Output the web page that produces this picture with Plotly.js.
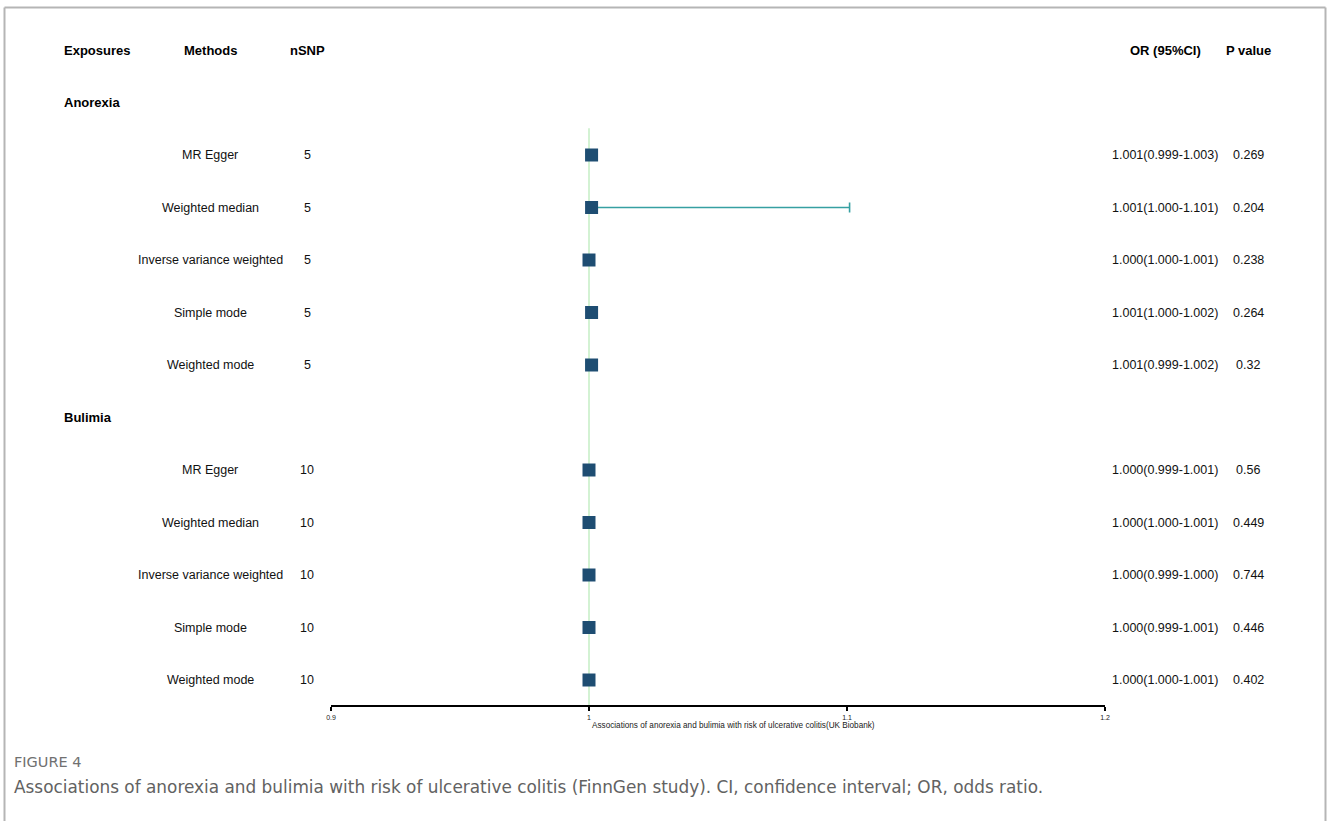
<!DOCTYPE html>
<html>
<head>
<meta charset="utf-8">
<script src="https://cdn.plot.ly/plotly-3.0.1.min.js"></script>
<style>
  html, body { margin: 0; padding: 0; background: #ffffff; }
  #chart { width: 1328px; height: 821px; }
</style>
</head>
<body>
<div id="chart"></div>
<script>
// ---- Data ----
const exposures = ["Anorexia", "Bulimia"];
const methods = ["MR Egger", "Weighted median", "Inverse variance weighted", "Simple mode", "Weighted mode"];
const nsnp = [[5, 5, 5, 5, 5], [10, 10, 10, 10, 10]];
const orVals = [[1.001, 1.001, 1.000, 1.001, 1.001], [1.000, 1.000, 1.000, 1.000, 1.000]];
const lowVals = [[0.999, 1.000, 1.000, 1.000, 0.999], [0.999, 1.000, 0.999, 0.999, 1.000]];
const highVals = [[1.003, 1.101, 1.001, 1.002, 1.002], [1.001, 1.001, 1.000, 1.001, 1.001]];
const pVals = [["0.269", "0.204", "0.238", "0.264", "0.32"], ["0.56", "0.449", "0.744", "0.446", "0.402"]];
const headers = ["Exposures", "Methods", "nSNP", "OR (95%CI)", "P value"];
const tickVals = [0.9, 1, 1.1, 1.2];
const tickText = ["0.9", "1", "1.1", "1.2"];
const refValue = 1;
const axisTitle = "Associations of anorexia and bulimia with risk of ulcerative colitis(UK Biobank)";
const figLabel = "FIGURE 4";
const caption = "Associations of anorexia and bulimia with risk of ulcerative colitis (FinnGen study). CI, confidence interval; OR, odds ratio.";

// ---- Build rows ----
const W = 1328, H = 821;
const px = v => v / W;            // horizontal pixel -> paper fraction
const py = v => 1 - v / H;        // vertical pixel -> paper fraction
const FONT = "Liberation Sans, Arial, sans-serif";
const CAPFONT = "DejaVu Sans, Open Sans, sans-serif";

const xs = [], ys = [], errPlus = [], errMinus = [];
const annotations = [];
let row = 1;
const groupRows = [];

function fmt(v) { return v.toFixed(3); }

exposures.forEach((exp, g) => {
  groupRows.push(row);
  annotations.push({ x: px(62), xref: "paper", y: row, yref: "y", text: "<b>" + exp + "</b>",
    showarrow: false, xanchor: "left", yanchor: "middle", font: { family: FONT, size: 13, color: "#000" } });
  row++;
  methods.forEach((m, i) => {
    const o = orVals[g][i], lo = lowVals[g][i], hi = highVals[g][i];
    xs.push(o); ys.push(row);
    errPlus.push(hi - o); errMinus.push(o - lo);
    annotations.push({ x: px(210), xref: "paper", y: row, yref: "y", text: m, showarrow: false,
      xanchor: "center", yanchor: "middle", font: { family: FONT, size: 12.5, color: "#111" } });
    annotations.push({ x: px(307), xref: "paper", y: row, yref: "y", text: String(nsnp[g][i]), showarrow: false,
      xanchor: "center", yanchor: "middle", font: { family: FONT, size: 12.5, color: "#111" } });
    annotations.push({ x: px(1165), xref: "paper", y: row, yref: "y", text: fmt(o) + "(" + fmt(lo) + "-" + fmt(hi) + ")",
      showarrow: false, xanchor: "center", yanchor: "middle", font: { family: FONT, size: 12.5, color: "#111" } });
    annotations.push({ x: px(1248), xref: "paper", y: row, yref: "y", text: pVals[g][i], showarrow: false,
      xanchor: "center", yanchor: "middle", font: { family: FONT, size: 12.5, color: "#111" } });
    row++;
  });
});
const lastRow = row - 1;

// headers
const headerX = [px(62), px(210), px(307), px(1165), px(1248)];
const headerAnchor = ["left", "center", "center", "center", "center"];
headers.forEach((h, i) => {
  annotations.push({ x: headerX[i], xref: "paper", y: 0, yref: "y", text: "<b>" + h + "</b>", showarrow: false,
    xanchor: headerAnchor[i], yanchor: "middle", font: { family: FONT, size: 13, color: "#000" } });
});

// axis title + caption
annotations.push({ x: px(733), xref: "paper", y: py(725), yref: "paper", text: axisTitle, showarrow: false,
  xanchor: "center", yanchor: "middle", font: { family: FONT, size: 8.2, color: "#222" } });
annotations.push({ x: px(12), xref: "paper", y: py(762), yref: "paper", text: figLabel, showarrow: false,
  xanchor: "left", yanchor: "middle", font: { family: CAPFONT, size: 14.5, color: "#707070" } });
annotations.push({ x: px(12), xref: "paper", y: py(787), yref: "paper", text: caption, showarrow: false,
  xanchor: "left", yanchor: "middle", font: { family: CAPFONT, size: 16.9, color: "#626262" } });

// y mapping: row index -> pixel = 50 + 52.5*index
const rowTop = 50, rowStep = 52.5;
const yRange = [(H - rowTop) / rowStep, (0 - rowTop) / rowStep];
const axisRow = lastRow + 0.5;

const trace = {
  type: "scatter", mode: "markers", x: xs, y: ys,
  marker: { symbol: "square", size: 13, color: "#1e4d72", line: { width: 0 } },
  error_x: { type: "data", symmetric: false, array: errPlus, arrayminus: errMinus,
    color: "#36a0a2", thickness: 1.6, width: 5 },
  hoverinfo: "x+y", showlegend: false, cliponaxis: false
};

const layout = {
  width: W, height: H,
  margin: { l: 0, r: 0, t: 0, b: 0, pad: 0 },
  paper_bgcolor: "#ffffff", plot_bgcolor: "rgba(0,0,0,0)",
  showlegend: false,
  xaxis: {
    domain: [px(331), px(1105)], range: [0.9, 1.2], anchor: "free",
    position: py(rowTop + rowStep * axisRow),
    tickvals: tickVals, ticktext: tickText,
    showgrid: false, zeroline: false, showline: true, linecolor: "#000", linewidth: 2,
    ticks: "outside", ticklen: 4, tickwidth: 2, tickcolor: "#000",
    tickfont: { family: FONT, size: 7, color: "#222" }, fixedrange: true
  },
  yaxis: { domain: [0, 1], range: yRange, visible: false, fixedrange: true },
  shapes: [
    { type: "line", xref: "x", yref: "y", x0: refValue, x1: refValue, y0: groupRows[0] + 0.49, y1: axisRow,
      line: { color: "#d3f2d3", width: 2 }, layer: "below" },
    { type: "line", xref: "paper", yref: "paper", x0: px(4.5), x1: px(4.5), y0: -0.05, y1: py(7.5),
      line: { color: "#b5b5b5", width: 2 } },
    { type: "line", xref: "paper", yref: "paper", x0: px(4.5), x1: px(1325.5), y0: py(7.5), y1: py(7.5),
      line: { color: "#b5b5b5", width: 2 } },
    { type: "line", xref: "paper", yref: "paper", x0: px(1325.5), x1: px(1325.5), y0: -0.05, y1: py(7.5),
      line: { color: "#b5b5b5", width: 2 } }
  ],
  annotations: annotations
};

Plotly.newPlot("chart", [trace], layout, { displayModeBar: false, staticPlot: true });
</script>
</body>
</html>
